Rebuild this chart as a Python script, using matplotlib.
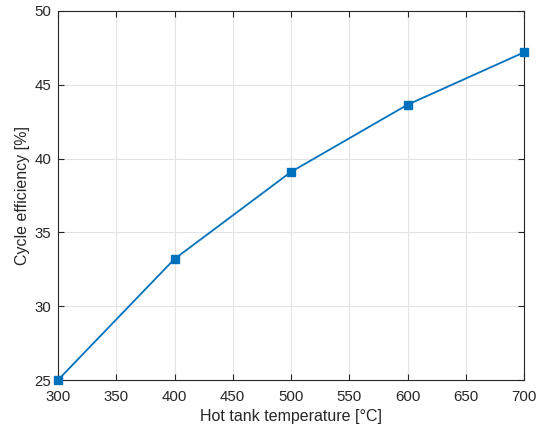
import numpy as np
import matplotlib
matplotlib.use("Agg")
import matplotlib.pyplot as plt

plt.rcParams['font.family'] = ['Liberation Sans', 'DejaVu Sans']

temp = [300, 400, 500, 600, 700]
eff = [25.0, 33.2, 39.1, 43.65, 47.2]

fig = plt.figure(figsize=(5.46, 4.29), dpi=100)
ax = fig.add_axes([58/546, 49/429, 466/546, 369/429])

ax.plot(temp, eff, color='#0072BD', linewidth=1.3, marker='s', markersize=6, clip_on=False, zorder=3)

ax.set_xlim(300, 700)
ax.set_ylim(25, 50)
ax.set_xticks(np.arange(300, 701, 50))
ax.set_yticks(np.arange(25, 51, 5))
ax.grid(True, color='#e3e3e3', linewidth=0.8)
ax.set_axisbelow(True)

tc = '#262626'
ax.tick_params(direction='in', top=True, right=True, length=4, width=0.8, labelsize=10.8, colors=tc)
ax.tick_params(axis='x', pad=7.5)
ax.tick_params(axis='y', pad=5)
for s in ax.spines.values():
    s.set_color(tc)
    s.set_linewidth(0.8)

ax.set_xlabel('Hot tank temperature [°C]', fontsize=11.5, color=tc, labelpad=3)
ax.set_ylabel('Cycle efficiency [%]', fontsize=11.5, color=tc, labelpad=3)

fig.savefig('out.png', dpi=100)
